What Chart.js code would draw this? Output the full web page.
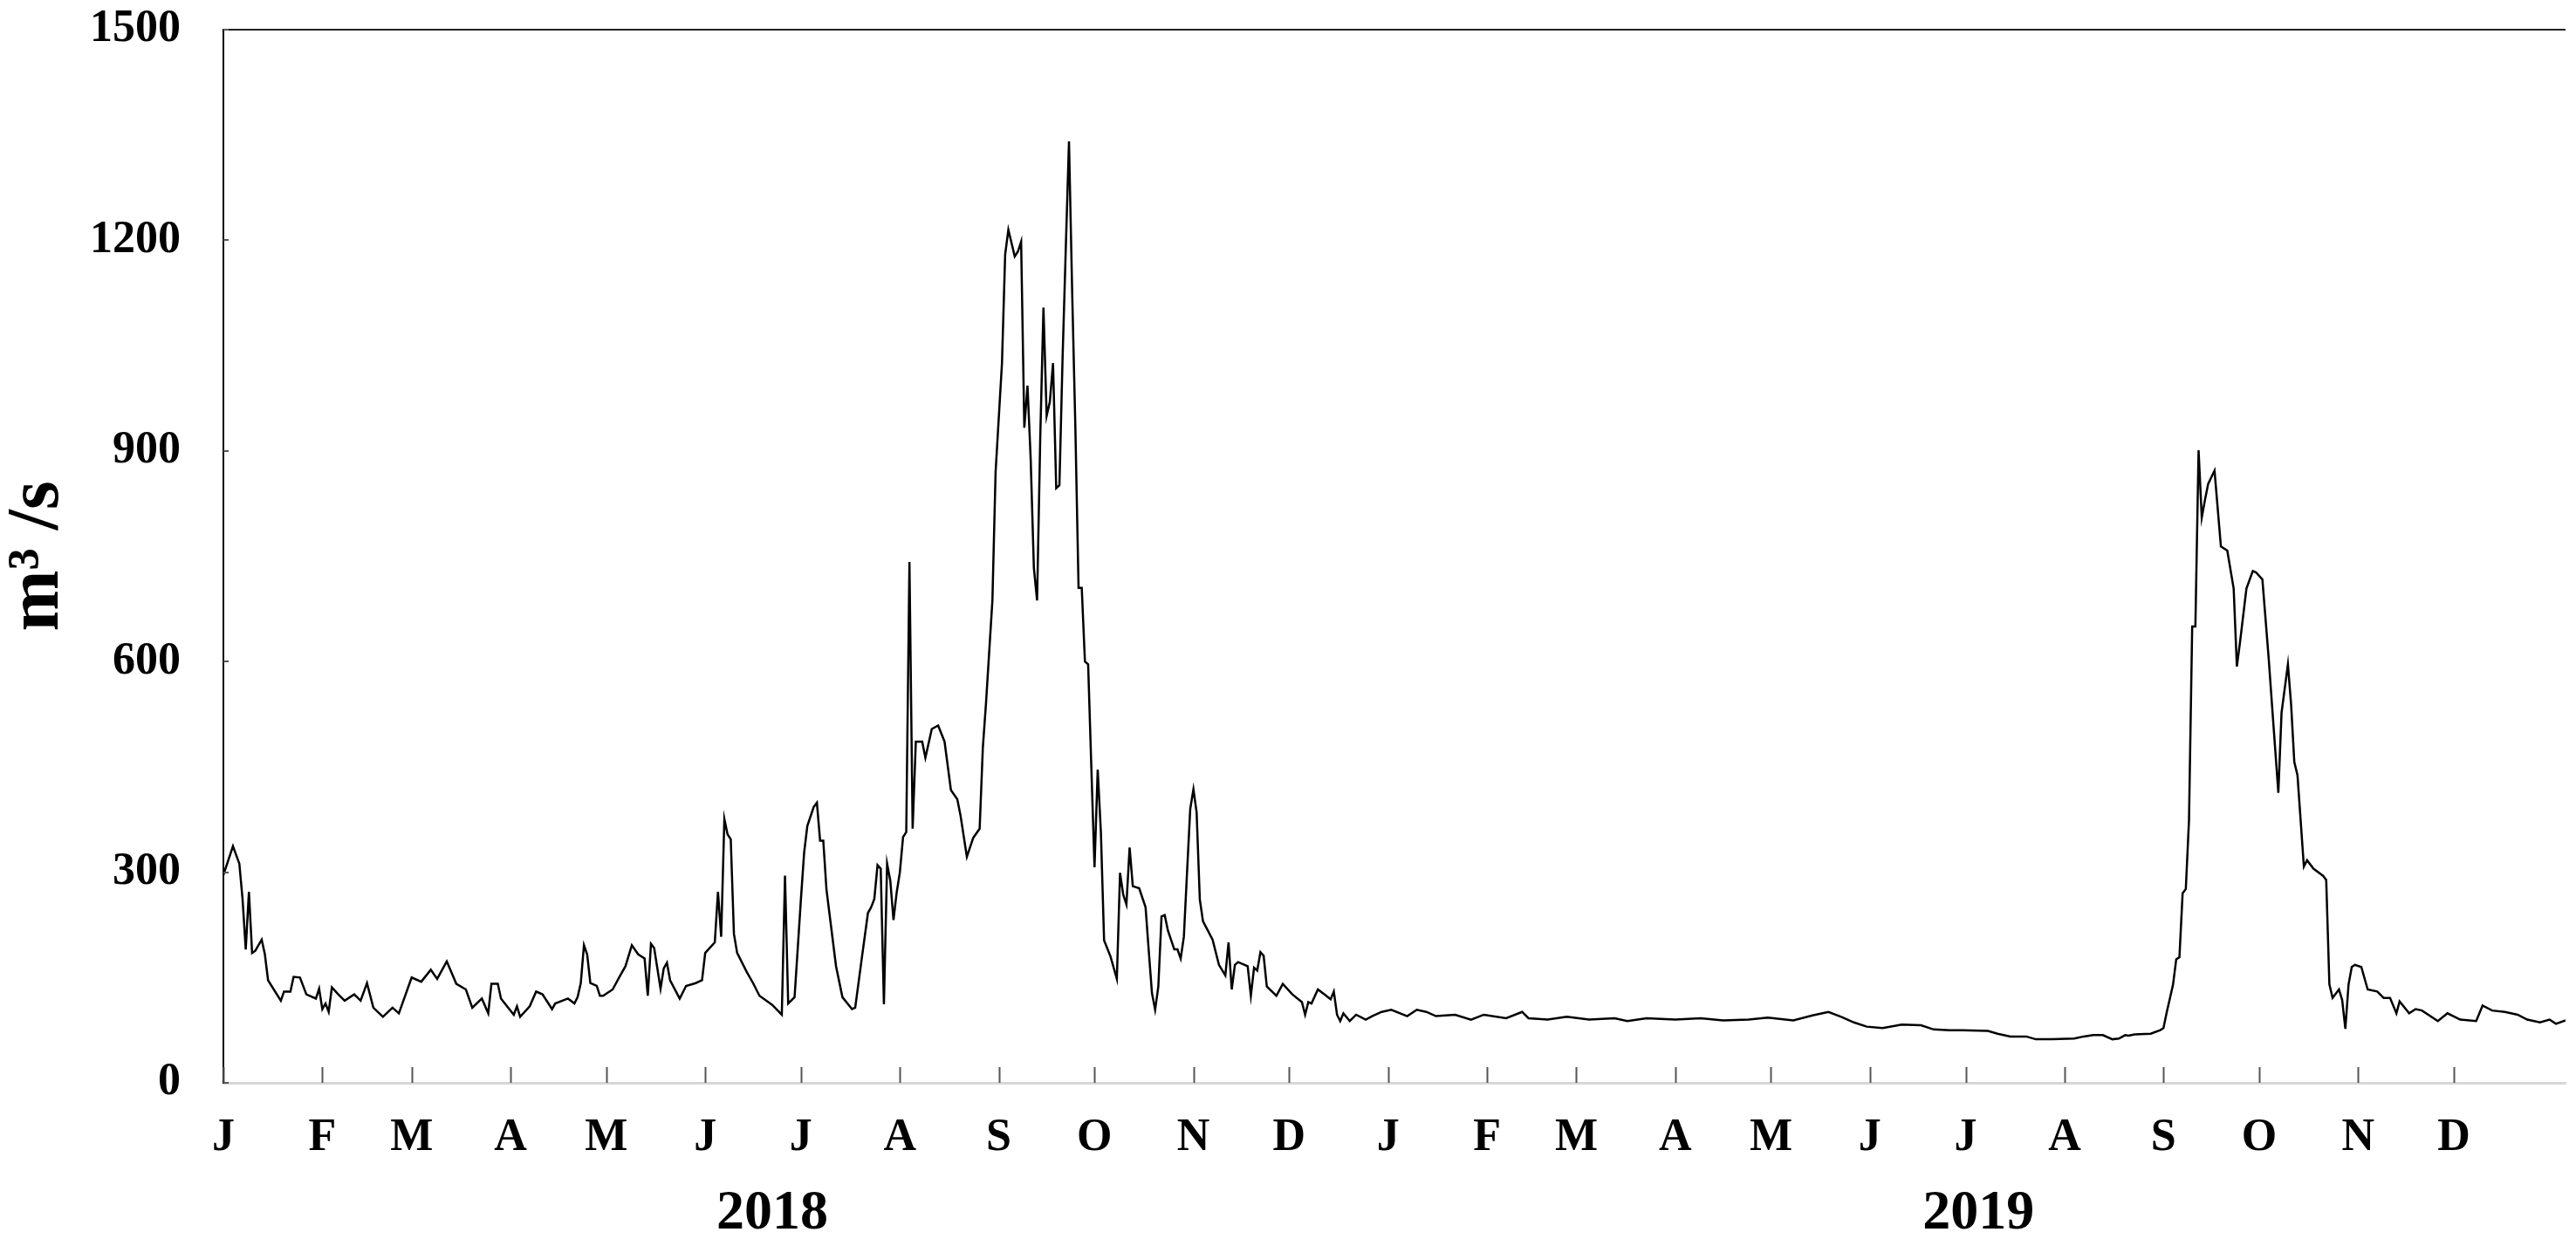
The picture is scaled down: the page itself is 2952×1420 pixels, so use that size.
<!DOCTYPE html>
<html>
<head>
<meta charset="utf-8">
<script src="https://cdn.jsdelivr.net/npm/chart.js@4"></script>
<style>
  html, body { margin: 0; padding: 0; background: #fff; }
  #wrap { width: 2952px; height: 1420px; }
</style>
</head>
<body>
<div id="wrap"><canvas id="flow"></canvas></div>
<script>
// month starts, counted in days from 1 Jan 2018
const monthDays = [0, 31, 59, 90, 120, 151, 181, 212, 243, 273, 304, 334,
                   365, 396, 424, 455, 485, 516, 546, 577, 608, 638, 669, 699];
const monthLabels = ['J', 'F', 'M', 'A', 'M', 'J', 'J', 'A', 'S', 'O', 'N', 'D',
                     'J', 'F', 'M', 'A', 'M', 'J', 'J', 'A', 'S', 'O', 'N', 'D'];
const yearDays = [172, 550];
const yearLabels = ['2018', '2019'];
const yTicks = [0, 300, 600, 900, 1200, 1500];

// discharge (day index, m3/s)
const dayIndex = [
  0, 3, 5, 6, 7, 8, 9, 10, 12, 13, 14, 18, 19, 21, 22, 24, 26, 29, 30, 31, 32, 33, 34, 36, 38,
  41, 43, 45, 47, 50, 53, 55, 59, 62, 65, 67, 70, 73, 76, 78, 81, 83, 84, 86, 87, 91, 92, 93, 96,
  98, 99, 100, 103, 104, 108, 110, 111, 112, 113, 114, 115, 117, 118, 119, 122, 124, 126, 128,
  130, 132, 133, 134, 135, 137, 138, 139, 140, 143, 145, 148, 150, 151, 154, 155, 156, 157, 158,
  159, 160, 161, 164, 166, 168, 172, 175, 176, 177, 179, 181, 182, 183, 185, 186, 187, 188, 189,
  192, 194, 197, 198, 200, 202, 203, 204, 205, 206, 207, 208, 209, 210, 211, 212, 213, 214, 215,
  216, 217, 219, 220, 222, 224, 226, 228, 230, 231, 233, 235, 237, 238, 239, 241, 242, 244, 245,
  246, 248, 249, 250, 251, 252, 253, 254, 255, 256, 257, 258, 259, 260, 261, 262, 263, 264, 265,
  266, 267, 268, 269, 270, 271, 272, 273, 274, 275, 276, 278, 280, 281, 282, 283, 284, 285, 287,
  289, 290, 291, 292, 293, 294, 295, 296, 298, 299, 300, 301, 302, 303, 304, 305, 306, 307, 310,
  312, 314, 315, 316, 317, 318, 321, 322, 323, 324, 325, 326, 327, 330, 332, 335, 338, 339, 340,
  341, 343, 345, 347, 348, 349, 350, 351, 353, 355, 358, 360, 363, 366, 371, 374, 377, 380, 386,
  391, 395, 402, 407, 409, 415, 421, 428, 436, 440, 446, 455, 463, 470, 478, 484, 492, 498, 503,
  507, 511, 515, 520, 526, 532, 536, 541, 545, 553, 556, 560, 565, 568, 573, 580, 583, 586, 589,
  592, 594, 596, 597, 599, 604, 607, 608, 609, 610, 611, 612, 613, 614, 615, 616, 617, 618, 619,
  620, 621, 622, 624, 626, 628, 630, 631, 632, 634, 636, 637, 639, 641, 642, 644, 645, 647, 648,
  649, 650, 652, 653, 655, 658, 659, 660, 661, 663, 664, 665, 666, 667, 668, 670, 672, 675, 677,
  679, 681, 682, 685, 687, 689, 694, 697, 701, 706, 708, 711, 715, 719, 722, 726, 729, 731, 734
];
const discharge = [
  296, 337, 312, 262, 190, 272, 185, 188, 204, 183, 146, 117, 130, 130, 151, 150, 126, 120, 134, 105, 113, 101, 136, 126, 117,
  126, 117, 142, 107, 94, 107, 99, 150, 144, 161, 148, 173, 141, 133, 107, 120, 99, 141, 141, 120, 97, 109, 94, 109,
  130, 128, 126, 105, 113, 120, 113, 122, 142, 196, 183, 142, 138, 124, 124, 133, 150, 166, 196,
  183, 177, 124, 198, 192, 134, 163, 171, 146, 120, 138, 142, 146, 185, 200, 272, 208, 376, 354,
  347, 212, 185, 158, 142, 124, 111, 97, 295, 113, 122, 262, 328, 366, 393, 399, 345, 345, 275,
  166, 122, 105, 107, 175, 242, 250, 262, 310, 305, 112, 312, 288, 232, 271, 300, 350, 357, 742,
  362, 486, 486, 463, 504, 509, 486, 417, 404, 381, 322, 349, 362, 477, 541, 687, 870, 1025, 1180,
  1215, 1177, 1184, 1198, 933, 993, 888, 733, 687, 920, 1104, 950, 970, 1025, 847, 851, 1034, 1189, 1341,
  1126, 933, 705, 705, 600, 596, 450, 307, 446, 357, 203, 180, 148, 299, 268, 254, 335, 280, 277,
  250, 188, 128, 104, 137, 237, 239, 217, 190, 190, 177, 208, 300, 390, 418, 385, 261, 230, 204,
  168, 153, 200, 133, 168, 172, 166, 124, 164, 160, 186, 181, 137, 124, 141, 126, 115, 97, 115,
  113, 133, 126, 119, 130, 97, 88, 99, 88, 97, 90, 95, 101, 104, 95, 104, 101, 95, 97,
  90, 97, 92, 101, 92, 90, 94, 90, 92, 88, 92, 90, 92, 89, 90, 93, 89, 96, 101,
  94, 86, 80, 78, 83, 82, 76, 75, 75, 74, 70, 66, 66, 62, 62, 63, 66, 68, 68,
  62, 63, 68, 67, 69, 70, 75, 78, 100, 120, 140, 176, 179, 270, 276, 374, 650, 650, 901,
  805, 830, 853, 872, 764, 758, 704, 593, 628, 704, 729, 727, 717, 603, 539, 413, 527, 596, 539,
  457, 438, 308, 317, 305, 295, 289, 140, 121, 133, 118, 77, 140, 165, 168, 165, 133, 130, 121,
  121, 99, 116, 99, 105, 103, 88, 99, 90, 88, 110, 103, 101, 97, 90, 86, 90, 84, 89
];

const serif = "'Liberation Serif', 'Times New Roman', serif";

// inward tick marks and the top frame line
const axisMarks = {
  id: 'axisMarks',
  afterDraw(chart) {
    const { ctx, chartArea: a, scales: { x, y } } = chart;
    ctx.save();
    ctx.lineWidth = 2;
    ctx.strokeStyle = '#222';
    ctx.beginPath();
    ctx.moveTo(a.left, a.top);
    ctx.lineTo(a.right, a.top);
    ctx.stroke();
    ctx.strokeStyle = '#555';
    ctx.beginPath();
    monthDays.forEach(d => {
      const px = Math.round(x.getPixelForValue(d)) + 0.5;
      ctx.moveTo(px, a.bottom);
      ctx.lineTo(px, a.bottom - 18);
    });
    yTicks.forEach(v => {
      const py = Math.round(y.getPixelForValue(v));
      ctx.moveTo(a.left, py);
      ctx.lineTo(a.left + 6, py);
    });
    ctx.stroke();
    ctx.restore();
  }
};

const points = dayIndex.map((d, i) => ({ x: d, y: discharge[i] }));

new Chart(document.getElementById('flow'), {
  type: 'line',
  data: {
    datasets: [{
      data: points,
      borderColor: '#000',
      borderWidth: 2.5,
      pointRadius: 0,
      tension: 0,
      fill: false
    }]
  },
  options: {
    responsive: true,
    maintainAspectRatio: false,
    animation: false,
    devicePixelRatio: 1,
    layout: { padding: { top: 34, right: 12, left: 0, bottom: 0 } },
    plugins: { legend: { display: false }, tooltip: { enabled: false } },
    scales: {
      x: {
        type: 'linear',
        position: 'bottom',
        min: 0,
        max: 734,
        afterBuildTicks: s => { s.ticks = monthDays.map(v => ({ value: v })); },
        afterFit: s => { s.height = 94; },
        grid: { display: false },
        border: { color: '#d6d6d6', width: 3 },
        ticks: {
          autoSkip: false,
          maxRotation: 0,
          padding: 24,
          color: '#000',
          font: { family: serif, size: 52, weight: 'bold' },
          callback: v => monthLabels[monthDays.indexOf(v)]
        }
      },
      year: {
        type: 'linear',
        position: 'bottom',
        min: 0,
        max: 734,
        afterBuildTicks: s => { s.ticks = yearDays.map(v => ({ value: v })); },
        afterFit: s => { s.height = 85; },
        grid: { display: false },
        border: { display: false },
        ticks: {
          autoSkip: false,
          maxRotation: 0,
          padding: 10,
          color: '#000',
          font: { family: serif, size: 64, weight: 'bold' },
          callback: v => yearLabels[yearDays.indexOf(v)]
        }
      },
      y: {
        min: 0,
        max: 1500,
        afterBuildTicks: s => { s.ticks = yTicks.map(v => ({ value: v })); },
        afterFit: s => {
          s.width = 256;
          // tick padding only pushes labels sideways here, not the plot top
          s.paddingTop = 31;
          s.paddingBottom = 31;
        },
        grid: { display: false },
        border: { color: '#000', width: 2 },
        ticks: {
          padding: 41,
          color: '#000',
          font: { family: serif, size: 52, weight: 'bold' },
          callback: v => String(v)
        },
        title: {
          display: true,
          text: 'm³ /s',
          color: '#000',
          padding: { top: 2, bottom: 0 },
          font: { family: serif, size: 84, weight: 'bold', lineHeight: 1 }
        }
      }
    }
  },
  plugins: [axisMarks]
});
</script>
</body>
</html>
